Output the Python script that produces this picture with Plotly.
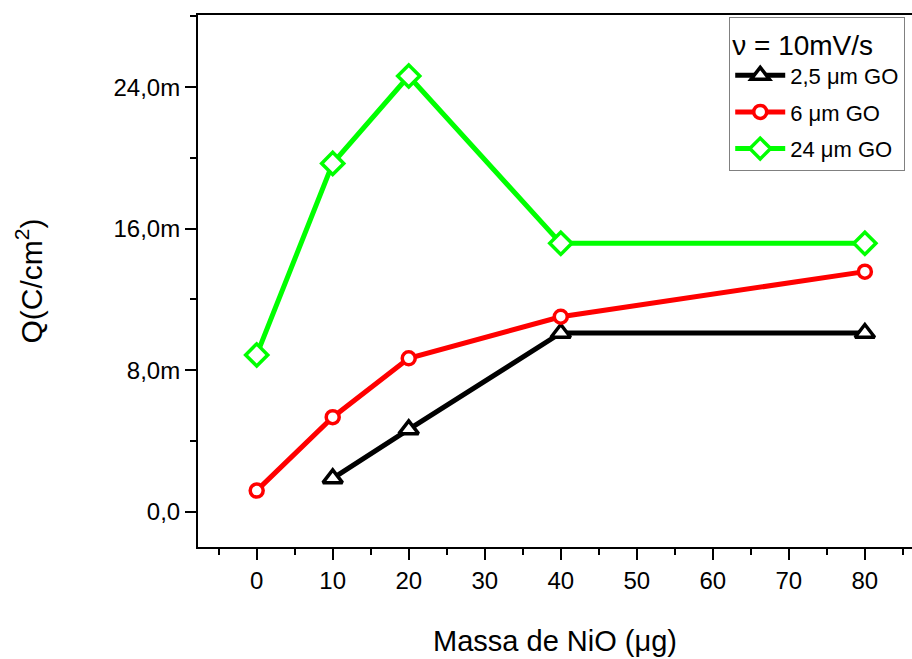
import plotly.graph_objects as go

# Data
massa = [0, 10, 20, 40, 80]
q_2_5um = [None, 1.88e-3, 4.65e-3, 10.1e-3, 10.1e-3]
q_6um = [1.19e-3, 5.34e-3, 8.67e-3, 11.02e-3, 13.57e-3]
q_24um = [8.86e-3, 19.69e-3, 24.63e-3, 15.17e-3, 15.17e-3]

names = ["2,5 \u03bcm GO", "6 \u03bcm GO", "24 \u03bcm GO"]
y_tickvals = [0, 8e-3, 16e-3, 24e-3]
y_ticktext = ["0,0", "8,0m", "16,0m", "24,0m"]
x_tickvals = [0, 10, 20, 30, 40, 50, 60, 70, 80]

FONT = "Liberation Sans, Arial, sans-serif"

fig = go.Figure()
series = [
    (q_2_5um, names[0], "#000000", "triangle-up", 17),
    (q_6um, names[1], "#ff0000", "circle", 13),
    (q_24um, names[2], "#00ff00", "diamond", 17),
]
for i, (ys, nm, col, sym, sz) in enumerate(series):
    fig.add_trace(go.Scatter(
        x=massa, y=ys, name=nm, mode="lines+markers",
        line=dict(color=col, width=5),
        marker=dict(symbol=sym, size=sz, color="white",
                    line=dict(color=col, width=3.5)),
        legendgroup="g%d" % i,
        connectgaps=False,
    ))

fig.update_layout(
    width=912, height=659,
    margin=dict(l=198, r=0, t=15, b=112),
    paper_bgcolor="white", plot_bgcolor="white",
    font=dict(family=FONT, color="black"),
    showlegend=True,
    legend=dict(
        x=0.744, y=0.996, xanchor="left", yanchor="top",
        bgcolor="white", bordercolor="#808080", borderwidth=1,
        font=dict(size=22, family=FONT),
        title=dict(text="\u03bd = 10mV/s", font=dict(size=28, family=FONT)),
        traceorder="grouped", tracegroupgap=5,
        itemwidth=50,
    ),
)

fig.update_xaxes(
    range=[-7.72, 86.2],
    tickmode="array", tickvals=x_tickvals,
    ticks="outside", ticklen=11, tickwidth=2, tickcolor="black",
    minor=dict(ticks="outside", ticklen=6, tickwidth=2, tickcolor="black",
               tickmode="linear", tick0=-5, dtick=10),
    showline=True, linewidth=2, linecolor="black", mirror=True,
    showgrid=False, zeroline=False,
    tickfont=dict(size=24, family=FONT),
    title=dict(text="Massa de NiO (\u03bcg)", font=dict(size=29, family=FONT),
               standoff=38),
)
fig.update_yaxes(
    range=[-2.0e-3, 28.08e-3],
    tickmode="array", tickvals=y_tickvals, ticktext=y_ticktext,
    ticks="outside", ticklen=11, tickwidth=2, tickcolor="black",
    minor=dict(ticks="outside", ticklen=6, tickwidth=2, tickcolor="black",
               tickmode="linear", tick0=4e-3, dtick=8e-3),
    showline=True, linewidth=2, linecolor="black", mirror=False,
    showgrid=False, zeroline=False,
    tickfont=dict(size=24, family=FONT),
    title=dict(text="Q(C/cm<sup>2</sup>)", font=dict(size=30, family=FONT),
               standoff=62),
)

fig.write_html("out.html")
